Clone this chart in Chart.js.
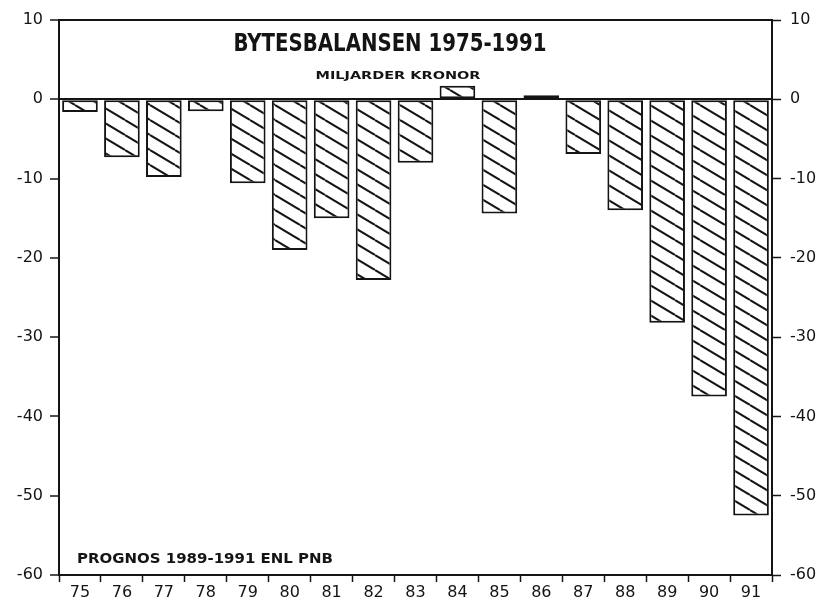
<!DOCTYPE html>
<html lang="sv">
<head>
    <meta charset="UTF-8">
    <title>Bytesbalansen 1975-1991</title>
    <script src="https://cdn.jsdelivr.net/npm/chart.js"></script>
    <style>
        body { margin: 0; background: #fff; }
        #wrap { width: 826px; height: 610px; }
    </style>
</head>
<body>
    <div id="wrap">
        <canvas id="balanceChart" width="826" height="610"></canvas>
    </div>

    <script>
        // data (miljarder kronor)
        const years = ['75', '76', '77', '78', '79', '80', '81', '82', '83', '84', '85', '86', '87', '88', '89', '90', '91'];
        const balance = [-1.6, -7.3, -9.8, -1.5, -10.6, -19.0, -15.0, -22.8, -8.0, 1.7, -14.4, 0.5, -6.9, -14.0, -28.2, -37.5, -52.5];
        const yMin = -60, yMax = 10, yStep = 10;

        const titleText = 'BYTESBALANSEN 1975-1991';
        const subText = 'MILJARDER KRONOR';
        const noteText = 'PROGNOS 1989-1991 ENL PNB';

        const ink = '#141414';

        // hatch tile: "\" lines
        function makeHatch() {
            const w = 25, h = 15;
            const t = document.createElement('canvas');
            t.width = w; t.height = h;
            const c = t.getContext('2d');
            c.fillStyle = '#fff';
            c.fillRect(0, 0, w, h);
            c.strokeStyle = ink;
            c.lineWidth = 2;
            [-h, 0, h].forEach(dy => {
                c.beginPath();
                c.moveTo(0, dy);
                c.lineTo(w, dy + h);
                c.stroke();
            });
            return c.createPattern(t, 'repeat');
        }

        // draws text squeezed/stretched to a given width
        function fitText(ctx, txt, cx, cy, width, font) {
            ctx.save();
            ctx.font = font;
            ctx.fillStyle = ink;
            ctx.textBaseline = 'middle';
            ctx.textAlign = 'center';
            const m = ctx.measureText(txt).width;
            ctx.translate(cx, cy);
            ctx.scale(width / m, 1);
            ctx.fillText(txt, 0, 0);
            ctx.restore();
        }

        const textPlugin = {
            id: 'texts',
            afterDraw(chart) {
                const ctx = chart.ctx;
                fitText(ctx, titleText, 390, 45, 313, 'bold 24px "DejaVu Sans Condensed", "DejaVu Sans", sans-serif');
                fitText(ctx, subText, 398, 76, 165, 'bold 11px "DejaVu Sans", sans-serif');
                fitText(ctx, noteText, 205, 559, 256, 'bold 14px "DejaVu Sans", sans-serif');
            }
        };

        const tickFont = { family: '"DejaVu Sans", sans-serif', size: 16 };

        const ctx = document.getElementById('balanceChart').getContext('2d');
        const balanceChart = new Chart(ctx, {
            type: 'bar',
            data: {
                labels: years,
                datasets: [{
                    data: balance,
                    backgroundColor: makeHatch(),
                    borderColor: ink,
                    borderWidth: 2,
                    borderSkipped: false,
                    barPercentage: 0.85,
                    categoryPercentage: 1.0
                }]
            },
            options: {
                responsive: false,
                animation: false,
                layout: { padding: { top: 20, left: 0, right: 0, bottom: 0 } },
                plugins: {
                    legend: { display: false },
                    tooltip: { enabled: false }
                },
                scales: {
                    x: {
                        grid: { drawOnChartArea: false, tickLength: 7, tickColor: ink, tickWidth: 1.5, offset: true },
                        border: { color: ink, width: 2 },
                        ticks: { color: ink, font: tickFont, padding: 1 },
                        afterFit: s => { s.height = 35; }
                    },
                    y: {
                        min: yMin, max: yMax,
                        grid: {
                            color: c => (c.tick && (c.tick.value === 0 || c.tick.value === yMax)) ? ink : 'rgba(0,0,0,0)',
                            lineWidth: 2,
                            tickColor: ink,
                            tickWidth: 1.5,
                            tickLength: 9
                        },
                        border: { color: ink, width: 2 },
                        ticks: { stepSize: yStep, color: ink, font: tickFont, padding: 7 },
                        afterFit: s => { s.width = 59; }
                    },
                    y2: {
                        position: 'right',
                        min: yMin, max: yMax,
                        grid: { drawOnChartArea: false, tickColor: ink, tickWidth: 1.5, tickLength: 9 },
                        border: { color: ink, width: 2 },
                        ticks: { stepSize: yStep, color: ink, font: tickFont, padding: 9 },
                        afterFit: s => { s.width = 54; }
                    }
                }
            },
            plugins: [textPlugin]
        });
    </script>
</body>
</html>
